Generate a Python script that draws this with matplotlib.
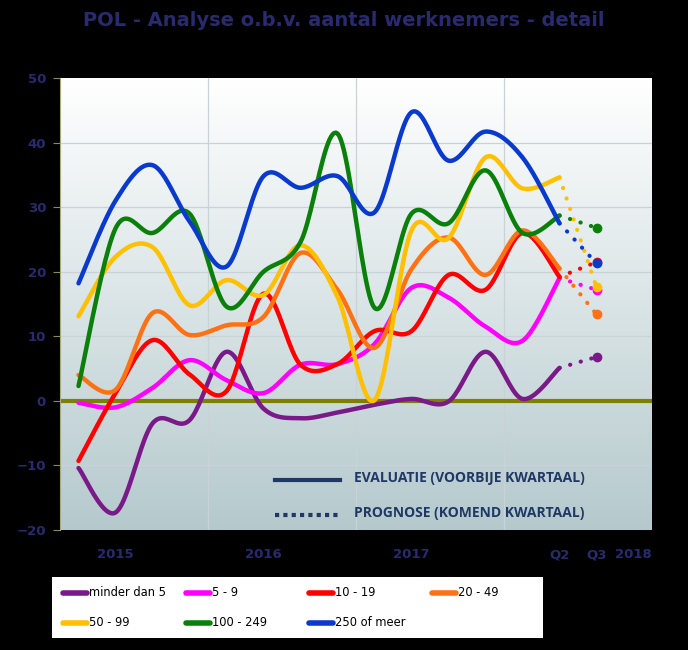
import numpy as np
import matplotlib.pyplot as plt
from matplotlib.lines import Line2D

# --------------------------------------------------
# Data (saldo per size class, quarterly 2015Q1 .. 2018Q2, prognosis 2018Q3)
# --------------------------------------------------
series_names = ["minder dan 5", "5 - 9", "10 - 19", "20 - 49",
                "50 - 99", "100 - 249", "250 of meer"]
series_colors = ["#7a1a88", "#ff00ff", "#ff0000", "#ff7214",
                 "#ffc000", "#0a800a", "#0a3acc"]

minder_dan_5 = [-10.4, -17.3, -3.5, -3.0, 7.6, -1.2, -2.7, -1.8, -0.6, 0.3, -0.1, 7.6, 0.3, 5.1]
van_5_9 = [-0.3, -1.0, 2.0, 6.3, 3.2, 1.2, 5.6, 5.7, 8.8, 17.5, 16.0, 11.5, 9.3, 19.0]
van_10_19 = [-9.3, 1.2, 9.4, 4.1, 1.5, 16.6, 5.6, 5.7, 10.8, 10.8, 19.5, 17.2, 26.0, 19.2]
van_20_49 = [4.0, 1.7, 13.6, 10.2, 11.7, 13.0, 22.9, 17.2, 8.2, 20.4, 25.3, 19.5, 26.4, 20.5]
van_50_99 = [13.1, 22.3, 23.8, 14.8, 18.7, 16.4, 24.1, 16.1, 0.1, 26.4, 25.2, 37.7, 32.9, 34.6]
van_100_249 = [2.3, 26.7, 26.0, 29.0, 14.6, 20.0, 24.6, 41.4, 14.4, 29.0, 27.5, 35.7, 26.0, 28.7]
meer_250 = [18.2, 31.0, 36.5, 27.8, 20.8, 34.8, 33.0, 34.8, 29.2, 44.7, 37.2, 41.7, 37.7, 27.5]

# prognosis for next quarter (2018 Q3)
prognose = [6.8, 17.2, 21.5, 13.4, 17.6, 26.8, 21.3]

evaluatie = [minder_dan_5, van_5_9, van_10_19, van_20_49,
             van_50_99, van_100_249, meer_250]

n_categories = 16          # 2015 Q1 .. 2018 Q4
tick_pos = [1, 5, 9, 13, 14, 15]
tick_labels = ["2015", "2016", "2017", "Q2", "Q3", "2018"]

navy = "#2a2a6e"
legend_navy = "#1f3864"


def smooth(xs, ys, n=24):
    # Catmull-Rom curve through the points (like Excel "smoothed line")
    xs = np.asarray(xs, float)
    ys = np.asarray(ys, float)
    px = np.concatenate([[xs[0]], xs, [xs[-1]]])
    py = np.concatenate([[ys[0]], ys, [ys[-1]]])
    t = np.linspace(0, 1, n)[:-1]
    out_x, out_y = [], []
    for i in range(1, len(px) - 2):
        for p, o in ((px, out_x), (py, out_y)):
            p0, p1, p2, p3 = p[i - 1], p[i], p[i + 1], p[i + 2]
            o.extend(0.5 * (2 * p1 + (-p0 + p2) * t
                            + (2 * p0 - 5 * p1 + 4 * p2 - p3) * t ** 2
                            + (-p0 + 3 * p1 - 3 * p2 + p3) * t ** 3))
    out_x.append(xs[-1])
    out_y.append(ys[-1])
    return np.array(out_x), np.array(out_y)


# --------------------------------------------------
# Figure
# --------------------------------------------------
fig = plt.figure(figsize=(6.88, 6.5), dpi=100, facecolor="black")
ax = fig.add_axes([60 / 688, 120 / 650, 592 / 688, 452 / 650])

# gradient background of the plot area (white at top, blue-grey at bottom)
grad = np.linspace(0, 1, 256)[:, None, None]
top = np.array([1.0, 1.0, 1.0])
bottom = np.array([0.71, 0.79, 0.805])
img = bottom + (top - bottom) * grad
img = np.repeat(img, 2, axis=1)
ax.imshow(img, extent=[-0.5, n_categories - 0.5, -20, 50], aspect="auto",
          zorder=0, origin="lower")

ax.set_xlim(-0.5, n_categories - 0.5)
ax.set_ylim(-20, 50)

for yv in range(-10, 50, 10):
    ax.axhline(yv, color="#c9d2d6", lw=0.9, zorder=1)
for xv in [3.5, 7.5, 11.5]:
    ax.axvline(xv, color="#c9d2d6", lw=0.9, zorder=1)
ax.axhline(0, color="#808000", lw=3, zorder=1.5)

x_eval = np.arange(len(meer_250))
x_prog = len(meer_250)

for vals, fc, col in zip(evaluatie, prognose, series_colors):
    sx, sy = smooth(x_eval, vals)
    ax.plot(sx, sy, color=col, lw=3.2, solid_capstyle="round", zorder=3)
    ax.plot([x_eval[-1], x_prog], [vals[-1], fc], color=col, lw=3,
            linestyle=(0, (0.05, 2.6)), dash_capstyle="round", zorder=3)
    ax.plot([x_prog], [fc], "o", color=col, markersize=6, zorder=4)

# in-plot legend for line styles
ax.plot([0.363, 0.473], [0.111, 0.111], transform=ax.transAxes,
        color=legend_navy, lw=3, zorder=5)
ax.plot([0.363, 0.473], [0.034, 0.034], transform=ax.transAxes,
        color=legend_navy, lw=3, linestyle=(0, (1, 1)), zorder=5)
ax.text(0.497, 0.115, "EVALUATIE (VOORBIJE KWARTAAL)", transform=ax.transAxes,
        color=legend_navy, fontsize=10, fontweight="bold",
        family="Open Sans", va="center", zorder=5)
ax.text(0.497, 0.038, "PROGNOSE (KOMEND KWARTAAL)", transform=ax.transAxes,
        color=legend_navy, fontsize=10, fontweight="bold",
        family="Open Sans", va="center", zorder=5)

# axes styling
ax.set_yticks(range(-20, 51, 10))
ax.set_xticks(tick_pos)
ax.set_xticklabels(tick_labels)
ax.tick_params(axis="y", colors="#8a8a5a", length=5, width=0.8, pad=5,
               labelcolor=navy, labelsize=9.5)
ax.tick_params(axis="x", length=0, pad=13, labelcolor=navy, labelsize=9.5)
for lab in ax.get_xticklabels() + ax.get_yticklabels():
    lab.set_fontweight("bold")
for side in ["top", "right", "bottom"]:
    ax.spines[side].set_visible(False)
ax.spines["left"].set_color("#a8a878")
ax.spines["left"].set_linewidth(0.8)

fig.text(0.5, 1 - 20 / 650, "POL - Analyse o.b.v. aantal werknemers - detail",
         ha="center", va="center", color=navy, fontsize=14, fontweight="bold")

# bottom legend (white box, 4 columns)
lax = fig.add_axes([52 / 688, 12 / 650, 491 / 688, 61 / 650])
lax.set_xlim(0, 491)
lax.set_ylim(61, 0)
lax.set_facecolor("white")
lax.set_xticks([])
lax.set_yticks([])
for s in lax.spines.values():
    s.set_visible(False)
for k, (name, col) in enumerate(zip(series_names, series_colors)):
    col_x = 9 + 123 * (k % 4)
    row_y = 16 + 30 * (k // 4)
    lax.add_line(Line2D([col_x + 2, col_x + 26], [row_y, row_y], color=col,
                        lw=4, solid_capstyle="round"))
    lax.text(col_x + 28, row_y, name, va="center", ha="left",
             fontsize=8.3, color="black")

fig.savefig("out.png", dpi=100, facecolor="black")
